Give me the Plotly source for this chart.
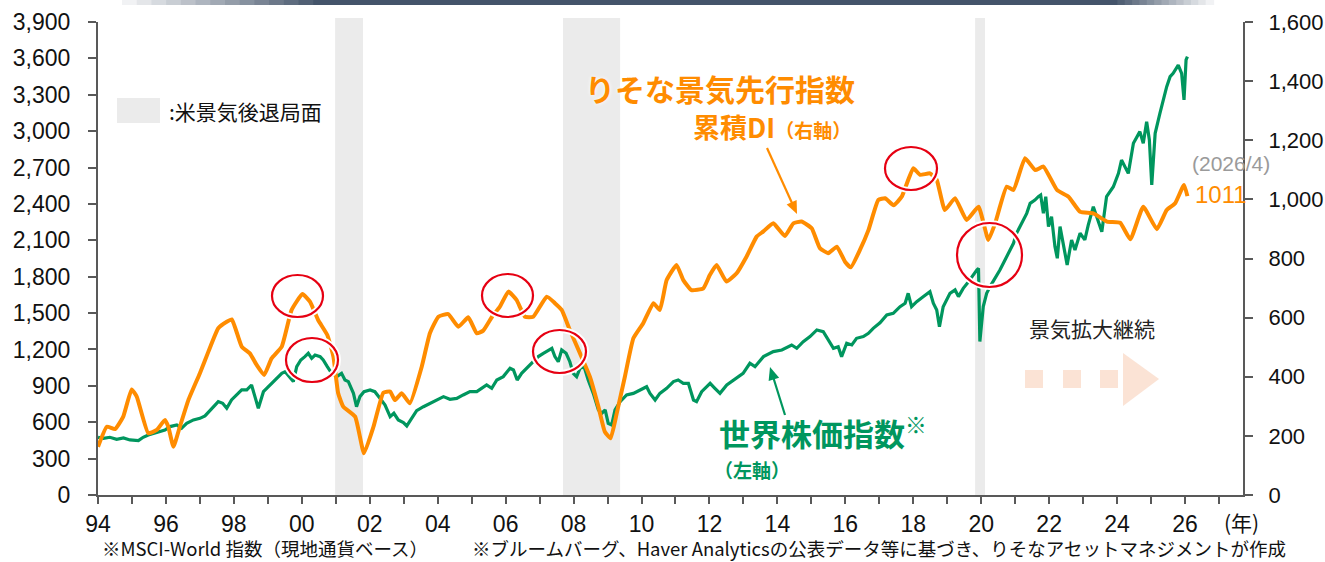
import math
import plotly.graph_objects as go

# ---------------- data ----------------
di_years = [1994.00, 1994.26, 1994.50, 1994.74, 1994.99, 1995.14, 1995.48, 1995.73, 1995.97, 1996.07,
            1996.22, 1996.41, 1996.66, 1997.00, 1997.25, 1997.54, 1997.79, 1997.94, 1998.23, 1998.47,
            1998.67, 1998.89, 1999.11, 1999.41, 1999.70, 2000.02, 2000.24, 2000.48, 2000.75, 2000.93,
            2001.07, 2001.22, 2001.57, 2001.83, 2002.11, 2002.40, 2002.60, 2002.74, 2002.94, 2003.18,
            2003.53, 2003.77, 2004.02, 2004.31, 2004.61, 2004.90, 2005.15, 2005.34, 2005.60, 2005.83,
            2006.08, 2006.32, 2006.57, 2006.81, 2007.21, 2007.45, 2007.65, 2007.89, 2008.19, 2008.48,
            2008.73, 2008.92, 2009.09, 2009.27, 2009.51, 2009.76, 2010.05, 2010.35, 2010.54, 2010.74,
            2011.03, 2011.23, 2011.47, 2011.82, 2012.01, 2012.21, 2012.50, 2012.80, 2013.09, 2013.39,
            2013.58, 2013.88, 2014.22, 2014.47, 2014.71, 2015.01, 2015.25, 2015.50, 2015.75, 2015.99,
            2016.16, 2016.43, 2016.68, 2016.97, 2017.17, 2017.42, 2017.66, 2018.00, 2018.20, 2018.49,
            2018.69, 2018.93, 2019.23, 2019.57, 2019.92, 2020.21, 2020.41, 2020.75, 2020.95, 2021.29,
            2021.59, 2021.83, 2022.23, 2022.57, 2022.91, 2023.30, 2023.70, 2024.09, 2024.39, 2024.77,
            2025.17, 2025.46, 2025.71, 2025.97, 2026.07]
di_values = [163, 231, 223, 264, 357, 333, 209, 220, 254, 231,
             163, 231, 321, 412, 485, 564, 586, 594, 502, 479,
             440, 406, 462, 502, 626, 680, 654, 592, 541, 468,
             344, 299, 265, 141, 231, 346, 350, 321, 344, 310,
             434, 547, 603, 612, 569, 601, 547, 556, 603, 637,
             688, 660, 603, 603, 671, 649, 626, 558, 479, 400,
             299, 214, 192, 276, 400, 530, 581, 649, 626, 727,
             778, 727, 693, 699, 744, 778, 722, 750, 806, 874,
             891, 919, 876, 919, 925, 902, 835, 818, 840, 789,
             770, 829, 896, 998, 1004, 980, 1009, 1105, 1083, 1088,
             1066, 964, 1004, 930, 975, 863, 919, 1043, 1032, 1139,
             1099, 1111, 1032, 1009, 958, 953, 925, 921, 865, 975,
             899, 964, 987, 1049, 1011]

stock_years = [
    1994.00, 1994.16, 1994.35, 1994.55, 1994.75, 1994.94, 1995.19, 1995.33, 1995.48, 1995.68,
    1995.83, 1995.97, 1996.12, 1996.32, 1996.46, 1996.61, 1996.81, 1997.00, 1997.15, 1997.30,
    1997.44, 1997.54, 1997.67, 1997.79, 1997.93, 1998.08, 1998.23, 1998.38, 1998.52, 1998.62,
    1998.72, 1998.87, 1999.06, 1999.26, 1999.41, 1999.51, 1999.63, 1999.75, 1999.85, 1999.97,
    2000.09, 2000.19, 2000.29, 2000.39, 2000.54, 2000.63, 2000.75, 2000.88, 2001.03, 2001.17,
    2001.27, 2001.37, 2001.52, 2001.61, 2001.71, 2001.83, 2002.01, 2002.15, 2002.30, 2002.45,
    2002.60, 2002.71, 2002.84, 2002.99, 2003.09, 2003.23, 2003.38, 2003.58, 2003.77, 2003.97,
    2004.17, 2004.36, 2004.56, 2004.75, 2004.95, 2005.15, 2005.34, 2005.44, 2005.59, 2005.74,
    2005.93, 2006.13, 2006.23, 2006.34, 2006.47, 2006.67, 2006.82, 2006.96, 2007.11, 2007.26,
    2007.36, 2007.45, 2007.55, 2007.65, 2007.78, 2007.89, 2007.99, 2008.09, 2008.19, 2008.31,
    2008.43, 2008.58, 2008.73, 2008.83, 2008.93, 2009.02, 2009.12, 2009.22, 2009.37, 2009.56,
    2009.76, 2009.96, 2010.15, 2010.25, 2010.40, 2010.54, 2010.74, 2010.94, 2011.08, 2011.23,
    2011.38, 2011.53, 2011.62, 2011.77, 2012.02, 2012.16, 2012.31, 2012.51, 2012.70, 2012.99,
    2013.19, 2013.34, 2013.59, 2013.88, 2014.13, 2014.42, 2014.57, 2014.76, 2014.96, 2015.16,
    2015.35, 2015.50, 2015.65, 2015.79, 2015.89, 2016.04, 2016.19, 2016.33, 2016.53, 2016.68,
    2016.82, 2017.02, 2017.22, 2017.41, 2017.61, 2017.76, 2017.85, 2017.95, 2018.10, 2018.30,
    2018.49, 2018.59, 2018.69, 2018.77, 2018.88, 2019.08, 2019.23, 2019.33, 2019.47, 2019.59,
    2019.72, 2019.87, 2019.92, 2019.96, 2020.06, 2020.16, 2020.26, 2020.41, 2020.55, 2020.70,
    2020.85, 2020.95, 2021.04, 2021.14, 2021.34, 2021.44, 2021.58, 2021.68, 2021.75, 2021.83,
    2021.90, 2021.98, 2022.07, 2022.17, 2022.24, 2022.32, 2022.40, 2022.47, 2022.53, 2022.66,
    2022.76, 2022.91, 2023.05, 2023.15, 2023.30, 2023.40, 2023.55, 2023.69, 2023.89, 2024.04,
    2024.13, 2024.33, 2024.48, 2024.67, 2024.77, 2024.87, 2024.95, 2025.02, 2025.12, 2025.26,
    2025.46, 2025.56, 2025.65, 2025.80, 2025.90, 2025.97, 2026.03, 2026.07]
stock_values = [
    476, 467, 476, 459, 470, 454, 448, 476, 495, 509,
    522, 536, 564, 577, 550, 591, 619, 632, 652, 701,
    742, 770, 756, 715, 784, 825, 866, 866, 907, 811,
    715, 852, 907, 962, 1003, 1017, 976, 935, 1058, 1113,
    1141, 1168, 1127, 1154, 1141, 1113, 1058, 1003, 976, 1003,
    948, 935, 838, 728, 811, 852, 866, 852, 797, 742,
    646, 674, 619, 597, 569, 632, 695, 728, 756, 789,
    811, 789, 797, 825, 852, 852, 893, 907, 880, 948,
    976, 1045, 1031, 948, 1003, 1058, 1099, 1141, 1168, 1196,
    1209, 1141, 1099, 1196, 1168, 1099, 1003, 976, 1045, 1058,
    948, 838, 701, 674, 701, 591, 577, 701, 770, 825,
    838, 866, 893, 838, 783, 838, 880, 935, 948, 921,
    921, 783, 770, 852, 921, 880, 838, 907, 948, 1003,
    1086, 1058, 1141, 1182, 1196, 1237, 1210, 1264, 1306, 1361,
    1347, 1278, 1210, 1223, 1141, 1251, 1237, 1292, 1306, 1333,
    1374, 1420, 1484, 1498, 1553, 1581, 1663, 1553, 1594, 1636,
    1677, 1581, 1526, 1388, 1553, 1663, 1691, 1636, 1704, 1745,
    1800, 1855, 1869, 1265, 1553, 1663, 1718, 1787, 1855, 1938,
    2020, 2075, 2158, 2213, 2322, 2405, 2432, 2460, 2474, 2322,
    2460, 2213, 2295, 2048, 1952, 2213, 2103, 1993, 1897, 2103,
    2020, 2158, 2103, 2226, 2377, 2295, 2171, 2460, 2542, 2652,
    2762, 2652, 2900, 2996, 2900, 3078, 2927, 2556, 2982, 3147,
    3367, 3449, 3477, 3545, 3477, 3257, 3587, 3614]

recession_start = [2000.98, 2007.69, 2019.82]
recession_end = [2001.80, 2009.37, 2020.11]

x_tick_years = list(range(1994, 2027, 2))
x_tick_text = ["94", "96", "98", "00", "02", "04", "06", "08", "10", "12", "14", "16",
               "18", "20", "22", "24", "26"]
left_ticks = list(range(0, 3901, 300))
right_ticks = list(range(0, 1601, 200))

latest_label = "(2026/4)"
latest_value = "1011"

# ---------------- layout helpers ----------------
W, H = 1325, 562
L, R, T, B = 98, 1243, 22, 495


def px(x):
    return (x - L) / (R - L)


def py(y):
    return (B - y) / (B - T)


ORANGE = "#FF8C00"
GREEN = "#00965E"
AXIS = "#595959"
NUM_FONT = "Liberation Sans, Arial, sans-serif"
JP_FONT = "Noto Sans CJK JP, sans-serif"
TICK_SIZE = 23

fig = go.Figure()

fig.add_trace(go.Scatter(x=stock_years, y=stock_values, mode="lines",
                         line=dict(color=GREEN, width=3.2), yaxis="y", showlegend=False,
                         hoverinfo="skip"))
fig.add_trace(go.Scatter(x=di_years, y=di_values, mode="lines",
                         line=dict(color=ORANGE, width=4, shape="spline", smoothing=0.4),
                         yaxis="y2", showlegend=False, hoverinfo="skip"))

shapes = []
# recession shading
for s, e in zip(recession_start, recession_end):
    shapes.append(dict(type="rect", xref="x", yref="paper", x0=s, x1=e, y0=0, y1=py(18),
                       fillcolor="#EBEBEB", line=dict(width=0), layer="below"))

# top gradient bar
navy = (68, 84, 106)
steps = 14


def blend(t):
    r = int(255 + (navy[0] - 255) * t)
    g = int(255 + (navy[1] - 255) * t)
    b = int(255 + (navy[2] - 255) * t)
    return f"rgb({r},{g},{b})"


for i in range(steps):
    x0 = 122 + (328 - 122) * i / steps
    x1 = 122 + (328 - 122) * (i + 1) / steps
    shapes.append(dict(type="rect", xref="paper", yref="paper", x0=px(x0), x1=px(x1) + 0.001,
                       y0=py(5), y1=py(0), fillcolor=blend((i + 1) / steps), line=dict(width=0)))
shapes.append(dict(type="rect", xref="paper", yref="paper", x0=px(328), x1=px(1110),
                   y0=py(5), y1=py(0), fillcolor=blend(1), line=dict(width=0)))
for i in range(steps):
    x0 = 1110 + (1213 - 1110) * i / steps
    x1 = 1110 + (1213 - 1110) * (i + 1) / steps
    shapes.append(dict(type="rect", xref="paper", yref="paper", x0=px(x0), x1=px(x1) + 0.001,
                       y0=py(5), y1=py(0), fillcolor=blend(1 - i / steps), line=dict(width=0)))

# legend box for recession
shapes.append(dict(type="rect", xref="paper", yref="paper", x0=px(117), x1=px(160),
                   y0=py(123), y1=py(98), fillcolor="#EBEBEB", line=dict(width=0)))

# red circles (with white halo)
circles = [(272, 275, 323, 317), (286, 338, 338, 382), (482, 274, 533, 317),
           (533, 330, 586, 373), (885, 147, 937, 190), (957, 223, 1022, 287)]
for (x0, y0, x1, y1) in circles:
    shapes.append(dict(type="circle", xref="paper", yref="paper", x0=px(x0), x1=px(x1),
                       y0=py(y1), y1=py(y0), line=dict(color="white", width=6), layer="above"))
    shapes.append(dict(type="circle", xref="paper", yref="paper", x0=px(x0), x1=px(x1),
                       y0=py(y1), y1=py(y0), line=dict(color="#E60012", width=2.2), layer="above"))

# dotted arrow "景気拡大継続"
PEACH = "#FBE3D5"
for xs in [(1025, 1043), (1063, 1081), (1100, 1118)]:
    shapes.append(dict(type="rect", xref="paper", yref="paper", x0=px(xs[0]), x1=px(xs[1]),
                       y0=py(388), y1=py(370), fillcolor=PEACH, line=dict(width=0)))
tri = f"M {px(1123)} {py(353)} L {px(1159)} {py(379)} L {px(1123)} {py(406)} Z"
shapes.append(dict(type="path", xref="paper", yref="paper", path=tri, fillcolor=PEACH,
                   line=dict(width=0)))


def arrow(x0, y0, x1, y1, color, head=13, half=5.5):
    dx, dy = x1 - x0, y1 - y0
    n = math.hypot(dx, dy)
    ux, uy = dx / n, dy / n
    bx, by = x1 - ux * head, y1 - uy * head
    pxv, pyv = -uy * half, ux * half
    shapes.append(dict(type="line", xref="paper", yref="paper", x0=px(x0), y0=py(y0),
                       x1=px(bx + ux * 2), y1=py(by + uy * 2), line=dict(color=color, width=2.2)))
    path = (f"M {px(x1)} {py(y1)} L {px(bx + pxv)} {py(by + pyv)} "
            f"L {px(bx - pxv)} {py(by - pyv)} Z")
    shapes.append(dict(type="path", xref="paper", yref="paper", path=path, fillcolor=color,
                       line=dict(width=0)))


arrow(767, 148, 797, 214, ORANGE)
arrow(785, 415, 770, 367, GREEN)

annotations = []
# x axis unit
annotations.append(dict(xref="paper", yref="paper", x=px(1241), y=py(522), text="(年)",
                        showarrow=False, font=dict(family=JP_FONT, size=21, color="#111"),
                        xanchor="center", yanchor="middle"))
# legend text
annotations.append(dict(xref="paper", yref="paper", x=px(167), y=py(111), text=":米景気後退局面",
                        showarrow=False, font=dict(family=JP_FONT, size=21, color="#111"),
                        xanchor="left", yanchor="middle"))
# orange title
annotations.append(dict(xref="paper", yref="paper", x=px(857), y=py(88), text="<b>りそな景気先行指数</b>",
                        showarrow=False, font=dict(family=JP_FONT, size=30, color=ORANGE,
                                                   shadow="0px 0px 4px white"),
                        xanchor="right", yanchor="middle"))
annotations.append(dict(xref="paper", yref="paper", x=px(853), y=py(127),
                        text="<b>累積DI<span style='font-size:19px'>（右軸）</span></b>",
                        showarrow=False, font=dict(family=JP_FONT, size=27, color=ORANGE,
                                                   shadow="0px 0px 4px white"),
                        xanchor="right", yanchor="middle"))
# green title
annotations.append(dict(xref="paper", yref="paper", x=px(717), y=py(431),
                        text="<b>世界株価指数</b><sup>※</sup>",
                        showarrow=False, font=dict(family=JP_FONT, size=31, color=GREEN,
                                                   shadow="0px 0px 4px white"),
                        xanchor="left", yanchor="middle"))
annotations.append(dict(xref="paper", yref="paper", x=px(712), y=py(469),
                        text="<b>（左軸）</b>",
                        showarrow=False, font=dict(family=JP_FONT, size=19, color=GREEN),
                        xanchor="left", yanchor="middle"))
# expansion text
annotations.append(dict(xref="paper", yref="paper", x=px(1092), y=py(328), text="景気拡大継続",
                        showarrow=False, font=dict(family=JP_FONT, size=21, color="#222"),
                        xanchor="center", yanchor="middle"))
# latest value
annotations.append(dict(xref="paper", yref="paper", x=px(1231), y=py(163), text=latest_label,
                        showarrow=False, font=dict(family=NUM_FONT, size=21, color="#9A9A9A"),
                        xanchor="center", yanchor="middle"))
annotations.append(dict(xref="paper", yref="paper", x=px(1221), y=py(194), text=latest_value,
                        showarrow=False, font=dict(family=NUM_FONT, size=24, color=ORANGE),
                        xanchor="center", yanchor="middle"))
# footnotes
annotations.append(dict(xref="paper", yref="paper", x=px(100), y=py(548),
                        text="※MSCI-World 指数（現地通貨ベース）",
                        showarrow=False, font=dict(family=JP_FONT, size=18.5, color="#111"),
                        xanchor="left", yanchor="middle"))
annotations.append(dict(xref="paper", yref="paper", x=px(470), y=py(548),
                        text="※ブルームバーグ、Haver Analyticsの公表データ等に基づき、りそなアセットマネジメントが作成",
                        showarrow=False, font=dict(family=JP_FONT, size=18.5, color="#111"),
                        xanchor="left", yanchor="middle"))

fig.update_layout(
    template="none",
    width=W, height=H,
    margin=dict(l=L, r=W - R, t=T, b=H - B, pad=0, autoexpand=False),
    paper_bgcolor="white", plot_bgcolor="white",
    showlegend=False,
    shapes=shapes,
    annotations=annotations,
    xaxis=dict(range=[1994, 1994 + (R - L) / 33.97], tickmode="array", tickvals=x_tick_years,
               ticktext=x_tick_text, ticks="outside", ticklen=7, tickwidth=1.5, tickcolor=AXIS,
               showline=True, linecolor=AXIS, linewidth=2, showgrid=False, zeroline=False,
               automargin=False,
               tickfont=dict(family=NUM_FONT, size=TICK_SIZE, color="#111"),
               minor=dict(dtick=1, tick0=1994, ticks="outside", ticklen=7, tickwidth=1.5,
                          tickcolor=AXIS, showgrid=False)),
    yaxis=dict(range=[0, 3900], tickmode="array", tickvals=left_ticks, tickformat=",d",
               ticks="outside", ticklen=8, tickwidth=1.5, tickcolor=AXIS, showline=True,
               linecolor=AXIS, linewidth=2, showgrid=False, zeroline=False, automargin=False,
               tickfont=dict(family=NUM_FONT, size=TICK_SIZE, color="#111"), ticklabelstandoff=13),
    yaxis2=dict(range=[0, 1600], tickmode="array", tickvals=right_ticks, tickformat=",d",
                overlaying="y", side="right", ticks="outside", ticklen=8, tickwidth=1.5,
                tickcolor=AXIS, showline=True, linecolor=AXIS, linewidth=2, showgrid=False,
                zeroline=False, automargin=False,
                tickfont=dict(family=NUM_FONT, size=22, color="#111"),
                ticklabelstandoff=11),
)

fig.write_html("out.html", config={"displayModeBar": False},
               post_script="document.body.style.margin='0px';document.body.style.overflow='hidden';")
